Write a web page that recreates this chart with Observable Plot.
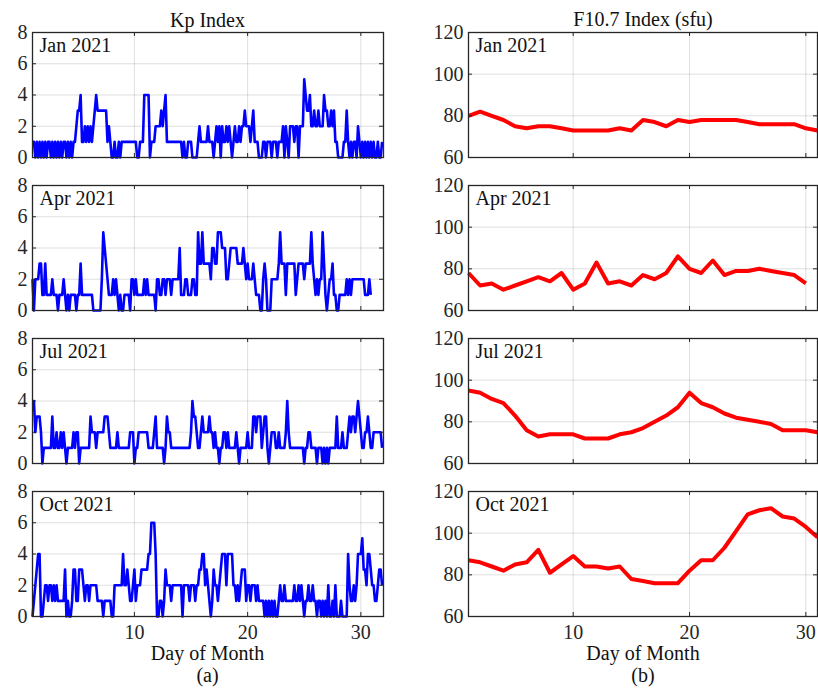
<!DOCTYPE html>
<html><head><meta charset="utf-8">
<script src="https://cdn.jsdelivr.net/npm/d3@7"></script>
<script src="https://cdn.jsdelivr.net/npm/@observablehq/plot@0.6"></script>
<style>
html,body{margin:0;padding:0;background:#fff;overflow:hidden;}
#root{position:relative;width:818px;height:688px;overflow:hidden;background:#fff;}
#root svg{position:absolute;}
</style></head><body><div id="root"></div>
<script>
// ---------------- DATA ----------------
const months = ["Jan 2021", "Apr 2021", "Jul 2021", "Oct 2021"];
const xTicks = [10, 20, 30];
const kpTicks = [0, 2, 4, 6, 8];
const f107Ticks = [60, 80, 100, 120];

// Kp index, 3-hourly (8 values per day)
const kpJan = [
1,1,0,1,0,1,0,1, 0,1,0,1,1,0,1,0, 1,0,1,0,1,0,1,1, 0,1,0,1,0,1,1,2,
3,3,4,1,1,2,1,2, 1,2,1,2,3,4,3,3, 3,3,3,3,3,1,2,1, 0,0,1,0,0,1,0,1,
1,1,1,1,1,1,1,1, 1,1,0,0,1,1,1,4, 4,4,4,0,1,1,1,2, 2,2,2,3,2,3,4,1,
1,1,1,1,1,1,1,1, 1,1,0,1,0,0,1,1, 1,0,0,0,0,1,2,1, 1,1,1,1,2,1,1,1,
0,1,2,1,2,0,2,1, 1,2,1,2,1,0,1,2, 1,1,2,1,2,2,3,2, 2,2,1,2,3,1,1,1,
0,0,0,1,1,0,1,1, 1,0,1,1,1,0,1,1, 1,2,0,2,1,0,2,2, 2,1,2,2,0,2,2,2,
5,4,3,3,4,2,2,3, 2,2,3,2,2,2,4,3, 3,2,2,3,2,3,1,1, 0,0,0,0,1,1,3,1,
0,1,0,1,1,0,2,1, 0,1,0,1,0,1,0,1, 0,1,0,0,1,0,0,1
];
const kpApr = [
2,0,2,2,2,3,3,1, 1,3,1,1,1,1,2,1, 1,1,0,1,1,1,2,1, 0,1,0,1,1,1,1,0,
1,1,3,1,1,1,1,1, 1,1,1,0,0,0,0,0, 0,2,5,4,3,2,1,1, 1,2,1,2,1,0,1,0,
0,1,1,1,1,0,2,2, 1,2,1,1,1,1,1,2, 1,2,1,1,1,1,1,0, 2,2,1,1,2,2,1,2,
2,2,1,2,2,2,2,2, 4,1,1,1,2,2,1,1, 1,2,2,1,1,5,3,3, 5,3,3,3,3,3,2,4,
4,3,3,5,5,5,4,4, 4,2,2,3,4,4,4,4, 4,3,3,3,3,4,3,2, 3,2,2,2,3,2,1,1,
1,0,0,2,3,2,0,0, 0,2,2,2,2,2,3,5, 3,3,3,1,3,3,3,3, 3,3,1,2,3,3,3,3,
2,3,3,3,3,5,3,2, 1,2,1,2,2,5,3,1, 0,1,2,2,3,1,1,0, 0,1,1,1,1,1,2,1,
2,1,2,2,2,2,2,2, 2,2,2,1,1,1,2,1
];
const kpJul = [
4,4,2,3,3,3,2,0, 1,1,1,1,1,1,3,1, 1,2,1,1,2,1,2,1, 0,1,1,1,1,2,1,2,
2,0,1,1,1,1,1,1, 1,3,2,2,2,1,2,2, 2,2,2,3,3,3,2,1, 1,1,1,1,2,1,1,1,
1,1,1,1,1,2,2,2, 0,1,1,2,2,2,2,2, 2,2,1,1,1,1,2,3, 1,1,1,1,1,0,1,3,
2,2,1,1,1,1,1,1, 1,1,1,1,1,1,1,1, 2,4,3,3,2,1,1,2, 3,2,2,2,2,3,2,2,
1,2,1,1,0,1,1,2, 2,1,2,1,1,1,1,1, 2,1,0,1,1,1,1,1, 2,1,1,1,3,3,2,3,
3,3,1,2,3,3,1,0, 1,2,2,2,1,1,2,1, 1,1,1,2,4,2,1,1, 1,1,1,1,1,1,1,1,
0,1,1,2,2,1,1,1, 1,0,1,1,1,0,1,0, 1,0,1,1,1,1,1,3, 1,1,1,2,1,1,1,2,
3,2,3,3,2,3,4,3, 2,1,1,2,2,3,2,1, 1,2,2,2,2,2,2,1
];
const kpOct = [
0,1,2,3,4,4,0,0, 1,2,2,1,2,2,1,2, 1,2,1,1,1,1,1,3, 0,1,0,0,1,3,3,1,
1,3,3,3,2,1,2,2, 1,2,2,2,2,2,1,1, 1,1,0,1,1,1,1,1, 0,0,2,2,2,2,2,2,
4,2,2,3,2,1,1,2, 3,1,2,2,2,3,3,3, 3,3,4,4,6,6,6,4, 0,0,1,1,0,1,3,2,
2,2,1,2,2,2,2,2, 2,2,0,2,2,2,2,1, 2,2,2,1,2,2,3,3, 4,4,2,3,2,1,0,1,
3,2,2,1,2,3,4,4, 4,2,4,4,4,4,2,2, 1,2,1,2,3,3,3,1, 2,2,1,2,2,2,1,2,
1,1,1,1,0,1,0,1, 0,1,0,1,0,0,1,2, 1,1,2,1,1,1,1,1, 1,2,1,1,2,1,2,1,
0,1,1,2,1,1,2,1, 1,0,1,1,0,1,0,1, 0,2,0,0,1,0,2,0, 0,0,1,0,0,0,0,4,
2,1,1,2,1,2,4,4, 4,5,3,3,2,4,4,3, 2,2,1,1,2,3,3,2
];

// F10.7 index (sfu), daily
const f107Jan = [80,82,80,78,75,74,75,75,74,73,73,73,73,74,73,78,77,75,78,77,78,78,78,78,77,76,76,76,76,74,73];
const f107Apr = [78,72,73,70,72,74,76,74,78,70,73,83,73,74,72,77,75,78,86,80,78,84,77,79,79,80,79,78,77,73];
const f107Jul = [95,94,91,89,83,76,73,74,74,74,72,72,72,74,75,77,80,83,87,94,89,87,84,82,81,80,79,76,76,76,75];
const f107Oct = [87,86,84,82,85,86,92,81,85,89,84,84,83,84,78,77,76,76,76,82,87,87,93,101,109,111,112,108,107,103,98];

const kpSeries = [kpJan, kpApr, kpJul, kpOct];
const f107Series = [f107Jan, f107Apr, f107Jul, f107Oct];

// ---------------- LAYOUT ----------------
const FONT = '"Liberation Serif", "Times New Roman", serif';
const INK = "#262626";
const H = 125;
const rowTops = [32, 185, 338, 491];
const cols = [
  {left: 32, w: 351, xDomain: [1, 32], yDomain: [0, 8], yTicks: kpTicks, color: "#0000ff", sw: 2.6,
   series: kpSeries, xOf: (d, i) => 1 + i / 8},
  {left: 468, w: 349, xDomain: [1, 31], yDomain: [60, 120], yTicks: f107Ticks, color: "#ff0000", sw: 4,
   series: f107Series, xOf: (d, i) => 1 + i}
];

const root = document.getElementById("root");

function panel(col, row) {
  const values = col.series[row];
  const data = values.map((v, i) => ({x: col.xOf(v, i), y: v}));
  const bottom = row === 3;
  const mL = 50, mR = 4, mT = 4, mB = bottom ? 32 : 4;
  const w = col.w;
  const marks = [
    Plot.gridX(xTicks, {stroke: "#000", strokeOpacity: 0.13, strokeWidth: 1}),
    Plot.gridY(col.yTicks, {stroke: "#000", strokeOpacity: 0.13, strokeWidth: 1}),
    Plot.line(data, {x: "x", y: "y", stroke: col.color, strokeWidth: col.sw, strokeLinejoin: "round", strokeLinecap: "butt"}),
    // inward ticks (bottom, top, left, right)
    Plot.tickX(xTicks, {stroke: INK, strokeWidth: 1, insetTop: H - 4}),
    Plot.tickX(xTicks, {stroke: INK, strokeWidth: 1, insetBottom: H - 4}),
    Plot.tickY(col.yTicks, {stroke: INK, strokeWidth: 1, insetRight: w - 4}),
    Plot.tickY(col.yTicks, {stroke: INK, strokeWidth: 1, insetLeft: w - 4}),
    Plot.frame({stroke: INK, strokeWidth: 1.3}),
    Plot.axisY(col.yTicks, {anchor: "left", tickSize: 0, tickPadding: 5, label: null, fill: INK}),
    Plot.text([months[row]], {frameAnchor: "top-left", textAnchor: "start", lineAnchor: "top", dx: 7, dy: 5, fill: "#111"})
  ];
  if (bottom) marks.push(Plot.axisX(xTicks, {anchor: "bottom", tickSize: 0, tickPadding: 8, label: null, fill: INK}));
  const svg = Plot.plot({
    width: mL + w + mR,
    height: mT + H + mB,
    marginLeft: mL, marginRight: mR, marginTop: mT, marginBottom: mB,
    x: {domain: col.xDomain, axis: null},
    y: {domain: col.yDomain, axis: null},
    style: {fontFamily: FONT, fontSize: "20px", color: INK, background: "transparent", overflow: "visible"},
    marks
  });
  svg.style.left = (col.left - mL) + "px";
  svg.style.top = (rowTops[row] - mT) + "px";
  root.appendChild(svg);
}

cols.forEach(col => rowTops.forEach((_, r) => panel(col, r)));

// titles and labels
const titles = [
  {t: "Kp Index", x: 207.5, y: 27},
  {t: "F10.7 Index (sfu)", x: 643, y: 26},
  {t: "Day of Month", x: 207.5, y: 660},
  {t: "Day of Month", x: 643, y: 660},
  {t: "(a)", x: 207.5, y: 682},
  {t: "(b)", x: 643, y: 682}
];
const ov = d3.select(root).append("svg")
  .attr("width", 818).attr("height", 688)
  .style("left", "0px").style("top", "0px").style("pointer-events", "none");
ov.selectAll("text").data(titles).join("text")
  .attr("x", d => d.x).attr("y", d => d.y)
  .attr("text-anchor", "middle")
  .attr("font-family", FONT).attr("font-size", 20).attr("fill", "#111")
  .text(d => d.t);
</script>
</body></html>
